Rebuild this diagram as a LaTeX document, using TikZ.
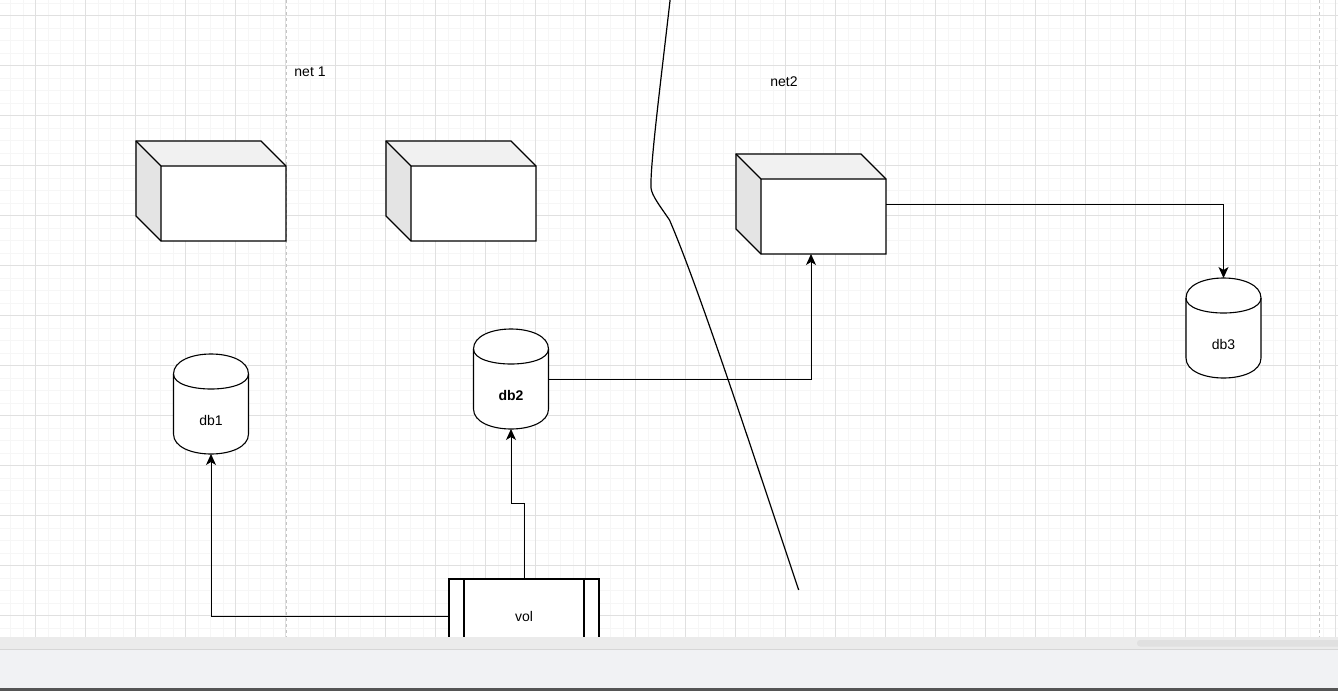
\documentclass[tikz,border=0pt]{standalone}
\usepackage{fontspec}
\setmainfont{Liberation Sans}
\usetikzlibrary{arrows.meta,calc}
\definecolor{minorgrid}{HTML}{F6F6F6}
\definecolor{majorgrid}{HTML}{E0E0E0}
\definecolor{pagebreak}{HTML}{C4C4C4}
\definecolor{cubetop}{HTML}{F1F1F1}
\definecolor{cubeside}{HTML}{E4E4E4}
\definecolor{barband}{HTML}{EBEBEB}
\definecolor{barline}{HTML}{D6D6D6}
\definecolor{barthumb}{HTML}{E0E0E0}
\definecolor{panel}{HTML}{F1F2F4}
\definecolor{panelline}{HTML}{555555}
\tikzset{
  shapeline/.style={draw=black,line width=1.1pt,line join=miter},
  conn/.style={draw=black,line width=1pt,-{Stealth[length=11pt,width=10pt,inset=3pt]}},
  boxnode/.style={draw=none,inner sep=0pt,outer sep=0pt,rectangle,font=\fontsize{14}{16}\selectfont},
  label/.style={inner sep=0pt,font=\fontsize{14}{16}\selectfont},
}
% cube: name, left x, top y
\newcommand{\mycube}[3]{%
  \fill[white] (#2,#3) -- (#2+125,#3) -- (#2+150,#3+25) -- (#2+150,#3+100) -- (#2+25,#3+100) -- (#2,#3+75) -- cycle;
  \fill[cubetop] (#2,#3) -- (#2+125,#3) -- (#2+150,#3+25) -- (#2+25,#3+25) -- cycle;
  \fill[cubeside] (#2,#3) -- (#2+25,#3+25) -- (#2+25,#3+100) -- (#2,#3+75) -- cycle;
  \draw[shapeline] (#2,#3) -- (#2+125,#3) -- (#2+150,#3+25) -- (#2+150,#3+100) -- (#2+25,#3+100) -- (#2,#3+75) -- cycle;
  \draw[shapeline] (#2,#3) -- (#2+25,#3+25) -- (#2+150,#3+25) (#2+25,#3+25) -- (#2+25,#3+100);
  \node[boxnode,minimum width=150pt,minimum height=100pt] (#1) at (#2+75,#3+50) {};
}
% cylinder: name, left x, top y, text
\newcommand{\mycyl}[4]{%
  \draw[shapeline,fill=white] (#2,#3+20) .. controls (#2,#3-6.67) and (#2+75,#3-6.67) .. (#2+75,#3+20) -- (#2+75,#3+80) .. controls (#2+75,#3+106.67) and (#2,#3+106.67) .. (#2,#3+80) -- cycle;
  \draw[shapeline] (#2,#3+20) .. controls (#2,#3+40) and (#2+75,#3+40) .. (#2+75,#3+20);
  \node[boxnode,minimum width=75pt,minimum height=100pt] (#1) at (#2+37.5,#3+50) {};
  \node[label] (#1text) at (#2+37.5,#3+66) {#4};
}
\begin{document}
\begin{tikzpicture}[x=1pt,y=-1pt]
\useasboundingbox (0,0) rectangle (1338,691);
\begin{scope}
\clip (0,0) rectangle (1338,637);
\fill[white] (0,0) rectangle (1338,637);
% grid
\foreach \i in {-2,...,104} {
  \draw[minorgrid,line width=1pt] ({35.5+12.5*\i},0) -- ({35.5+12.5*\i},637);
}
\foreach \j in {-1,...,51} {
  \draw[minorgrid,line width=1pt] (0,{15.5+12.5*\j}) -- (1338,{15.5+12.5*\j});
}
\foreach \i in {-1,...,26} {
  \draw[majorgrid,line width=1pt] ({35.5+50*\i},0) -- ({35.5+50*\i},637);
}
\foreach \j in {0,...,12} {
  \draw[majorgrid,line width=1pt] (0,{15.5+50*\j}) -- (1338,{15.5+50*\j});
}
% page breaks
\draw[pagebreak,line width=1pt,dash pattern=on 3pt off 3pt] (286,0) -- (286,637);
\draw[pagebreak,line width=1pt,dash pattern=on 3pt off 3pt] (1319,0) -- (1319,637);
% labels
\node[label] (net1) at (310,72) {net 1};
\node[label] (net2) at (784,82) {net2};
% cubes
\mycube{cube1}{136}{141}
\mycube{cube2}{386}{141}
\mycube{cube3}{736}{154}
% cylinders
\mycyl{db1}{173.5}{354}{db1}
\mycyl{db2}{473.5}{329}{\textbf{db2}}
\mycyl{db3}{1186}{278}{db3}
% vol (process)
\node[boxnode,shapeline,fill=white,minimum width=150pt,minimum height=74pt] (vol) at (524,616) {vol};
\draw[shapeline] ($(vol.north west)+(15,0)$) -- ($(vol.south west)+(15,0)$);
\draw[shapeline] ($(vol.north east)+(-15,0)$) -- ($(vol.south east)+(-15,0)$);
% connectors
\draw[conn] (vol.north) -- ++(0,-75.5) -| (db2.south);
\draw[conn] (vol.west) -| (db1.south);
\draw[conn] (db2.east) -| (cube3.south);
\draw[conn] (cube3.east) -| (db3.north);
% free curve
\draw[black,line width=1.2pt] (671,-8) .. controls (661,80) and (650,165) .. (651,188)
  .. controls (652,196) and (660,206) .. (669.5,220)
  .. controls (700,290) and (765,490) .. (798.7,590);
\end{scope}
% bottom bars
\fill[barband] (0,637) rectangle (1338,649);
\fill[barthumb,rounded corners=3pt] (1137,640) rectangle (1345,646.5);
\draw[barline,line width=1pt] (0,649.5) -- (1338,649.5);
\fill[panel] (0,650) rectangle (1338,688);
\fill[panelline] (0,688) rectangle (1338,691);
\end{tikzpicture}
\end{document}
